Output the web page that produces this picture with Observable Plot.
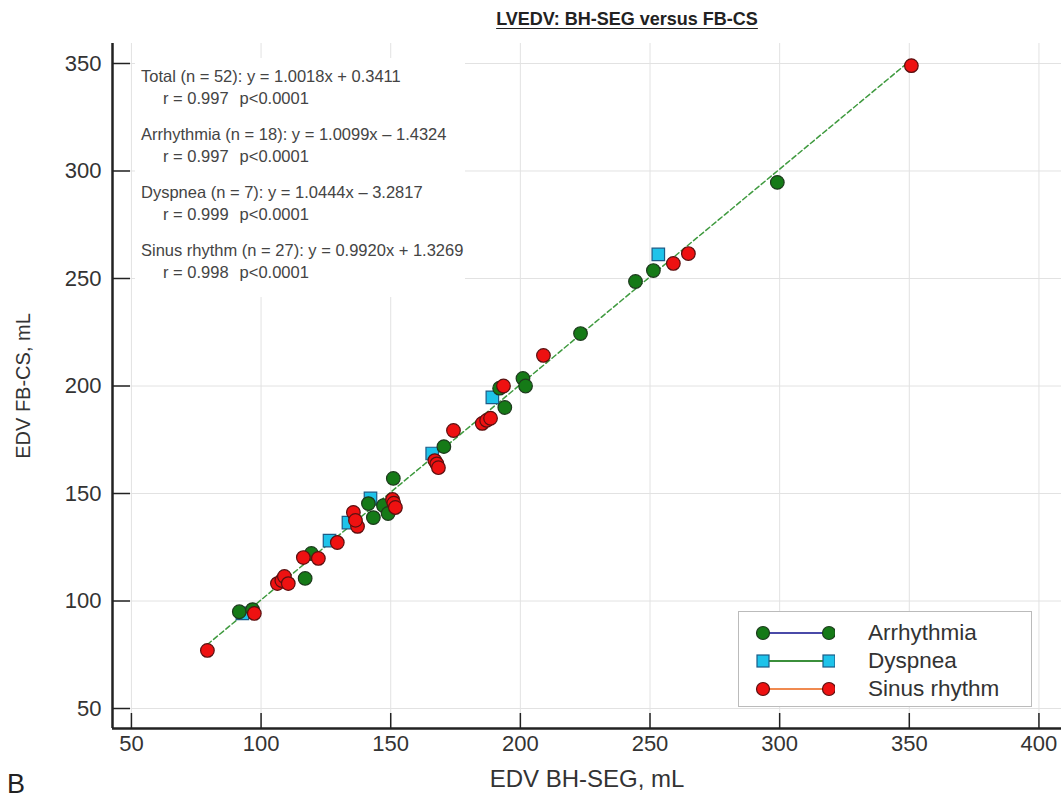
<!DOCTYPE html>
<html>
<head>
<meta charset="utf-8">
<script src="https://cdn.jsdelivr.net/npm/d3@7"></script>
<script src="https://cdn.jsdelivr.net/npm/@observablehq/plot@0.6"></script>
<style>
  body { margin: 0; background: #fff; font-family: "Liberation Sans", Arial, sans-serif; }
  #fig { position: relative; width: 1061px; height: 798px; overflow: hidden; }
  #title { position: absolute; top: 9px; left: 627px; transform: translateX(-50%);
           font-weight: bold; font-size: 18px; color: #222; text-decoration: underline;
           text-underline-offset: 3px; white-space: nowrap; }
  #panel { position: absolute; left: 7px; top: 769px; font-size: 27px; color: #222; }
  #stats { position: absolute; left: 135px; top: 58px; width: 330px; padding-top: 7px;
           background: #fff; color: #444; font-size: 16.5px; }
  #stats .grp { margin-bottom: 14px; }
  #stats .ln { height: 22px; line-height: 22px; padding-left: 6px; white-space: nowrap; }
  #stats .ln2 { padding-left: 28px; }
  #stats .ln2 .p { margin-left: 11px; }
  #legend { position: absolute; left: 738px; top: 611px; width: 294px; height: 96px;
            background: #fff; border: 1px solid #bbb; box-sizing: border-box; }
  #legend .row { position: absolute; left: 0; height: 28px; width: 100%; }
  #legend .row span { position: absolute; left: 129px; top: 0; line-height: 28px;
                      font-size: 22.5px; color: #333; }
  #legend svg { position: absolute; left: 16px; top: 0; }
</style>
</head>
<body>
<div id="fig"></div>
<script>
// EDV pairs (BH-SEG on x, FB-CS on y), mL, by patient group
const arrhythmiaX = [91.6, 96.7, 117, 119.4, 141.4, 143.3, 147.2, 149, 151, 170.5, 192, 194, 201, 202, 223.2, 244.4, 251.3, 299.1];
const arrhythmiaY = [95, 96, 110.5, 122.1, 145.3, 138.8, 144.4, 140.7, 157, 171.8, 199, 190, 203.5, 200, 224.4, 248.6, 253.7, 294.7];

const dyspneaX = [92.8, 126.4, 133.7, 142.2, 166, 189.2, 253.2];
const dyspneaY = [94.2, 128.1, 136.5, 147.7, 168.6, 194.7, 261.2];

const sinusX = [79.3, 97.4, 106.3, 108, 109, 110.5, 116.3, 122.1, 129.4, 135.6, 137.2, 150.7, 151.2, 151.8,
                167, 167.8, 168.4, 174.2, 185.3, 187, 188.5, 193.5, 208.9, 259, 264.8, 350.8, 136.4];
const sinusY = [77, 94.2, 108.1, 109.5, 111.4, 108.1, 120.2, 119.8, 127.2, 141.2, 134.7, 147.2, 145.5, 143.5,
                165.3, 163.8, 162, 179.3, 182.6, 184, 185, 200, 214.2, 257, 261.6, 349, 137.5];

// Regression summaries printed in the upper-left box
const statNames = ["Total", "Arrhythmia", "Dyspnea", "Sinus rhythm"];
const statN = [52, 18, 7, 27];
const statSlope = ["1.0018", "1.0099", "1.0444", "0.9920"];
const statIntercept = [0.3411, -1.4324, -3.2817, 1.3269];
const statR = ["0.997", "0.997", "0.999", "0.998"];
const statP = ["p<0.0001", "p<0.0001", "p<0.0001", "p<0.0001"];

const xTicks = [50, 100, 150, 200, 250, 300, 350, 400];
const yTicks = [50, 100, 150, 200, 250, 300, 350];
const xDomain = [42.7, 408.7];
const yDomain = [40.7, 359.3];

const groups = ["Arrhythmia", "Dyspnea", "Sinus rhythm"];
const markerFill = ["#157a17", "#1ec3ea", "#ee1111"];
const markerStroke = ["#1d3a1d", "#1c5b86", "#5a1010"];
const legendLine = ["#4a4aa8", "#3b8f3b", "#f08a50"];

const rows = (xs, ys) => xs.map((x, i) => ({x, y: ys[i]}));
const arrhythmia = rows(arrhythmiaX, arrhythmiaY);
const dyspnea = rows(dyspneaX, dyspneaY);
const sinus = rows(sinusX, sinusY);

// Total-fit line across the observed x range
const allX = [...arrhythmiaX, ...dyspneaX, ...sinusX];
const fitX = [d3.min(allX), d3.max(allX)];
const fit = fitX.map(x => ({x, y: 1.0018 * x + 0.3411}));

const squareR = 12.5 / Math.sqrt(Math.PI);

const chart = Plot.plot({
  width: 1061,
  height: 798,
  marginLeft: 112,
  marginRight: 0,
  marginTop: 43,
  marginBottom: 70,
  x: {domain: xDomain},
  y: {domain: yDomain},
  style: {fontFamily: "'Liberation Sans', Arial, sans-serif", fontSize: "22px", color: "#333", background: "#fff"},
  marks: [
    Plot.gridX(xTicks, {stroke: "#e2e2e2", strokeOpacity: 1, strokeWidth: 1}),
    Plot.gridY(yTicks, {stroke: "#e2e2e2", strokeOpacity: 1, strokeWidth: 1}),
    Plot.line(fit, {x: "x", y: "y", stroke: "#3f9a3f", strokeWidth: 1.5, strokeDasharray: "5,3"}),
    Plot.dot(dyspnea, {x: "x", y: "y", symbol: "square", r: squareR, fill: markerFill[1], stroke: markerStroke[1], strokeWidth: 1.2}),
    Plot.dot(arrhythmia, {x: "x", y: "y", r: 6.8, fill: markerFill[0], stroke: markerStroke[0], strokeWidth: 1.2}),
    Plot.dot(sinus, {x: "x", y: "y", r: 6.8, fill: markerFill[2], stroke: markerStroke[2], strokeWidth: 1.2}),
    Plot.ruleX([xDomain[0]], {stroke: "#222", strokeWidth: 2.5}),
    Plot.ruleY([yDomain[0]], {stroke: "#222", strokeWidth: 2.5}),
    Plot.axisX(xTicks, {tickSize: -15, tickPadding: 22, stroke: "#222", strokeWidth: 1.5, fontSize: 22,
      label: null}),
    Plot.axisY(yTicks, {tickSize: -18, tickPadding: 29, stroke: "#222", strokeWidth: 1.5, fontSize: 22,
      label: null}),
    Plot.axisX({ticks: [], label: "EDV BH-SEG, mL", labelAnchor: "center", labelOffset: 58, labelArrow: "none", fontSize: 24, tickSize: 0}),
    Plot.axisY({ticks: [], label: "EDV FB-CS, mL", labelAnchor: "center", labelOffset: 97, labelArrow: "none", fontSize: 20, tickSize: 0})
  ]
});

const fig = document.getElementById("fig");
fig.appendChild(chart);

// Title and panel letter
const title = document.createElement("div");
title.id = "title";
title.textContent = "LVEDV: BH-SEG versus FB-CS";
fig.appendChild(title);

const panel = document.createElement("div");
panel.id = "panel";
panel.textContent = "B";
fig.appendChild(panel);

// Regression statistics box
const stats = document.createElement("div");
stats.id = "stats";
statNames.forEach((name, i) => {
  const b = statIntercept[i];
  const sign = b < 0 ? "\u2013" : "+";
  const g = document.createElement("div");
  g.className = "grp";
  g.innerHTML =
    `<div class="ln">${name} (n = ${statN[i]}): y = ${statSlope[i]}x ${sign} ${Math.abs(b).toFixed(4)}</div>` +
    `<div class="ln ln2">r = ${statR[i]}<span class="p">${statP[i]}</span></div>`;
  stats.appendChild(g);
});
fig.appendChild(stats);

// Legend: line with a marker at each end, per group
const legend = document.createElement("div");
legend.id = "legend";
groups.forEach((name, i) => {
  const row = document.createElement("div");
  row.className = "row";
  row.style.top = (7 + i * 28) + "px";
  const svg = d3.create("svg").attr("width", 80).attr("height", 28);
  svg.append("line").attr("x1", 8).attr("x2", 74).attr("y1", 14).attr("y2", 14)
    .attr("stroke", legendLine[i]).attr("stroke-width", 2);
  [8, 74].forEach(cx => {
    if (name === "Dyspnea") {
      svg.append("rect").attr("x", cx - 6).attr("y", 8).attr("width", 12).attr("height", 12)
        .attr("fill", markerFill[i]).attr("stroke", markerStroke[i]).attr("stroke-width", 1.2);
    } else {
      svg.append("circle").attr("cx", cx).attr("cy", 14).attr("r", 6.5)
        .attr("fill", markerFill[i]).attr("stroke", markerStroke[i]).attr("stroke-width", 1.2);
    }
  });
  row.appendChild(svg.node());
  const label = document.createElement("span");
  label.textContent = name;
  row.appendChild(label);
  legend.appendChild(row);
});
fig.appendChild(legend);
</script>
</body>
</html>
